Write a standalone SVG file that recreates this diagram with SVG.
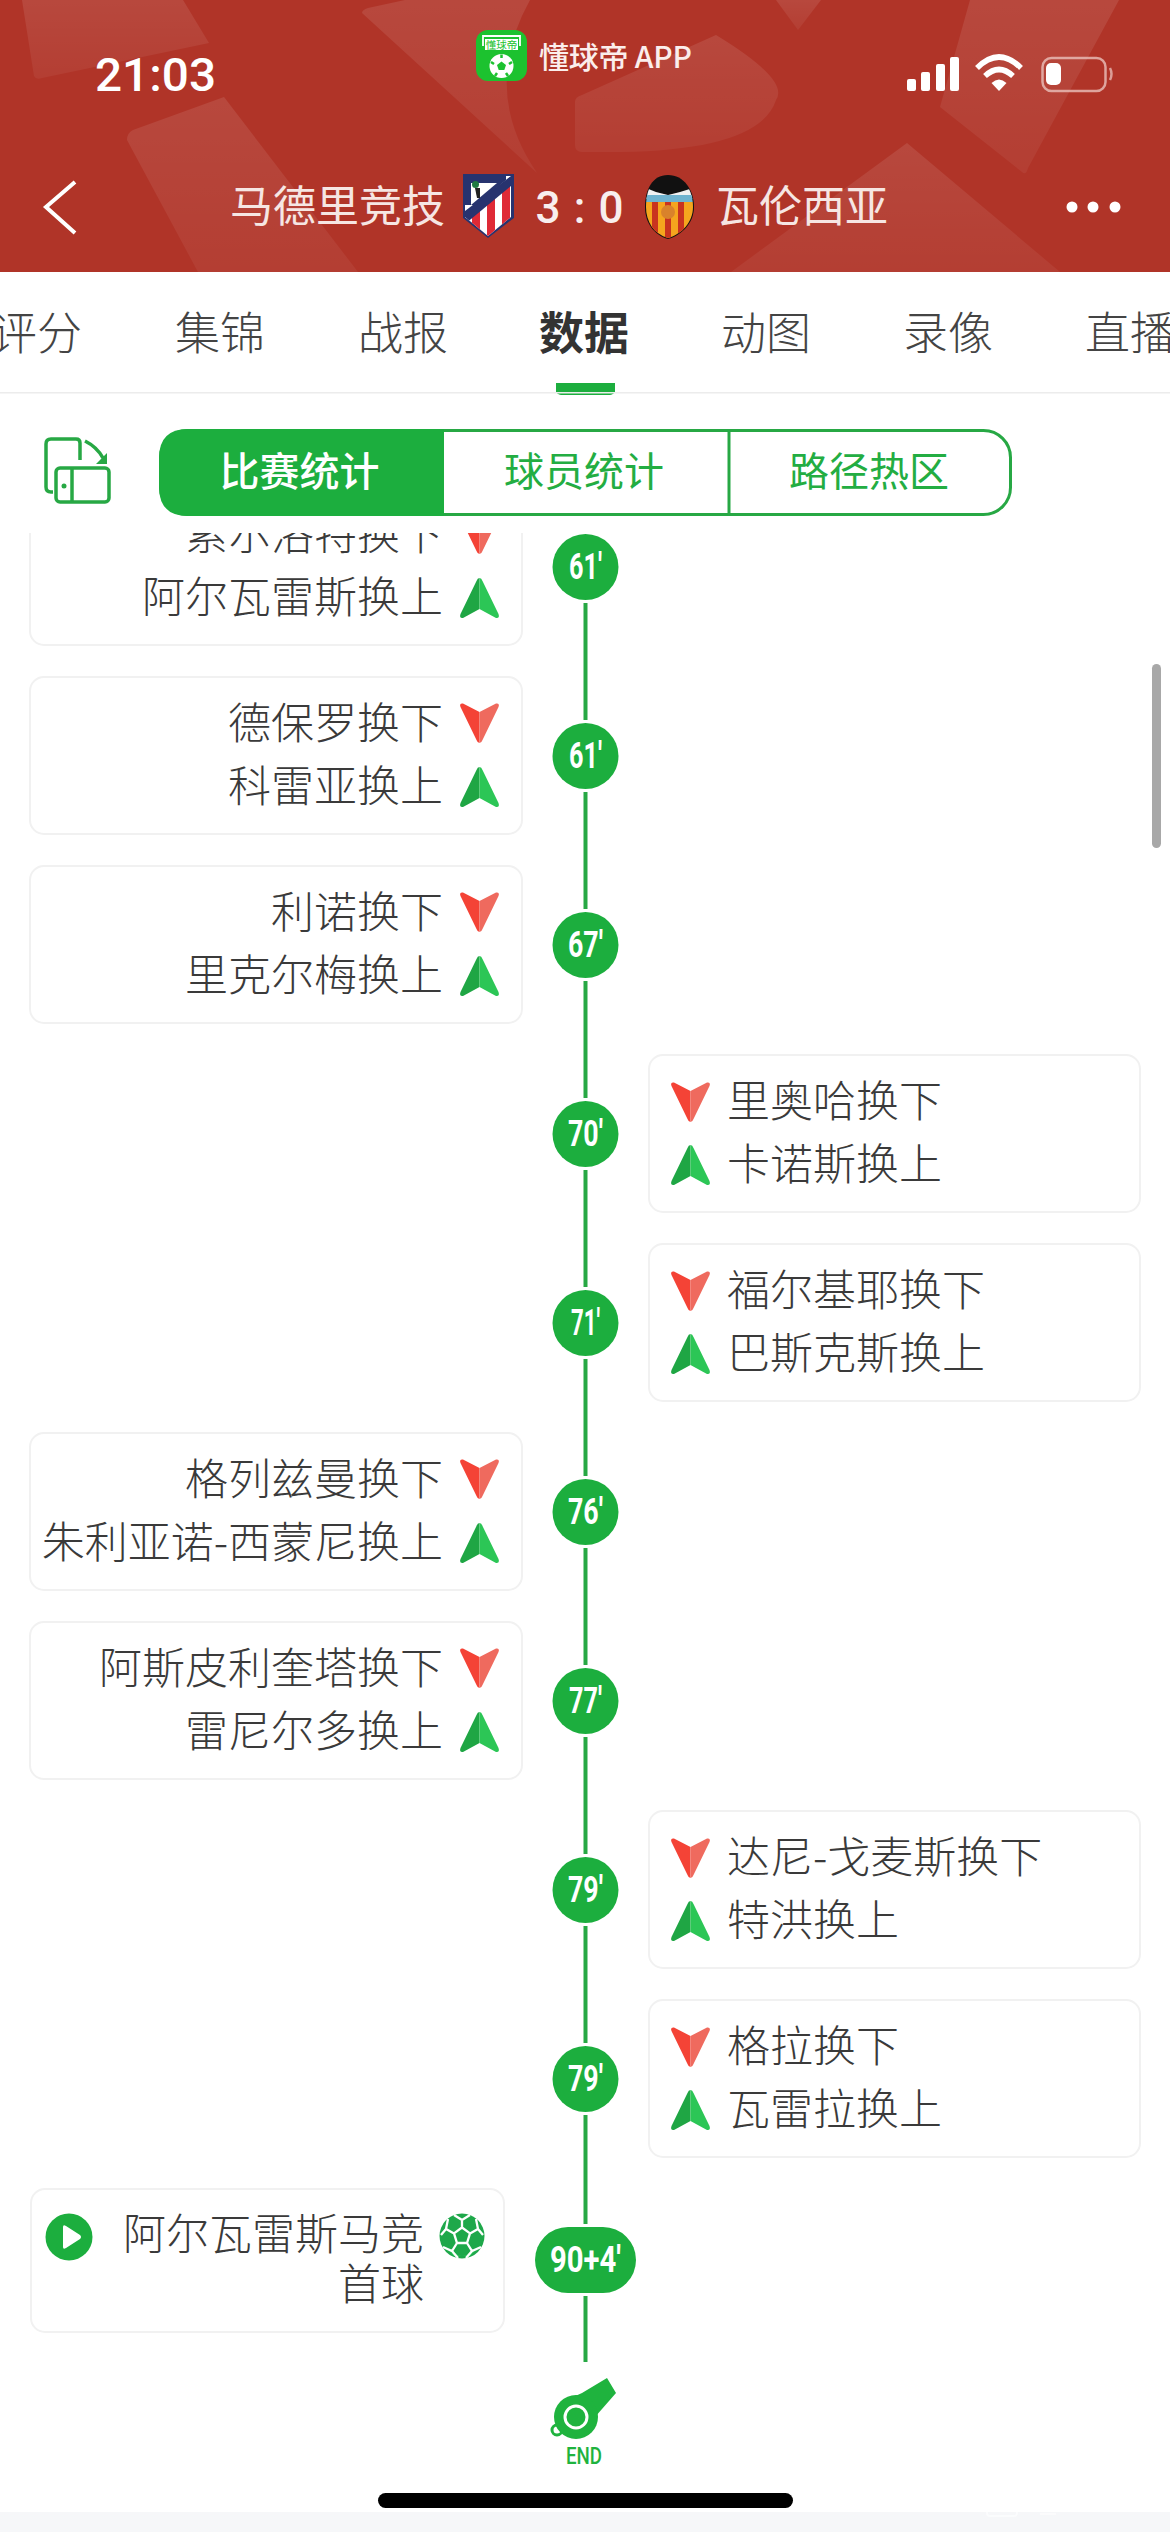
<svg xmlns="http://www.w3.org/2000/svg" xmlns:xlink="http://www.w3.org/1999/xlink" width="1170" height="2532" viewBox="0 0 1170 2532">
<style>
.cjk{font-family:"Noto Sans CJK SC","Noto Sans",sans-serif}
.row{font-size:43px;fill:#3a3a3a;font-weight:300}
.r{text-anchor:end}
.tab{font-size:45px;fill:#444;text-anchor:middle;font-weight:300}
.seg{font-size:40px;text-anchor:middle;fill:#23ad42}
.title{font-size:43px;fill:#f6e6e3}
.card{fill:#fff;stroke:#f1f1f1;stroke-width:2}
.bdg{fill:#1cae3e}
.bt{font-family:Roboto,"Liberation Sans",sans-serif;font-weight:700;font-size:36px;fill:#fff;text-anchor:middle}
.ln{stroke:#27a844;stroke-width:4;fill:none}
.gl{fill:url(#sheen)}
</style>
<defs>
<linearGradient id="sheen" x1="0" y1="0" x2="0" y2="1"><stop offset="0" stop-color="#fff" stop-opacity=".1"/><stop offset="1" stop-color="#fff" stop-opacity=".05"/></linearGradient>
<clipPath id="list"><rect x="0" y="533" width="1170" height="1979"/></clipPath>
<clipPath id="atmShield"><path d="M465 176H511V217L488 236L465 217Z"/></clipPath>
<clipPath id="vcfShield"><path d="M668 176C684 176 693 190 693 207C693 222 682 234 668 238C654 234 646 222 646 207C646 190 652 176 668 176Z"/></clipPath>
<g id="dn"><path d="M19.500 40Q17.500 40 16.500 37L.5 4Q-1 0 3 .5L19.500 9Z" fill="#f44336"/><path d="M19.500 40Q21.500 40 22.500 37L38.500 4Q40 0 36 .5L19.500 9Z" fill="#ef6a5e"/></g>
<g id="up"><path d="M19.500 0Q17.500 0 16.500 3L.5 36Q-1 40.500 3 40L19.500 31Z" fill="#1fa644"/><path d="M19.500 0Q21.500 0 22.500 3L38.500 36Q40 40.500 36 40L19.500 31Z" fill="#2cc656"/></g>
</defs>
<rect width="1170" height="2532" fill="#fff"/>
<g id="header">
<rect width="1170" height="272" fill="#b03428"/>
<path class="gl" d="M22 0L34 76Q36 80 42 78L209 43L183 0Z"/>
<path class="gl" d="M362 13Q362 10 368 8L405 0H530Q480 90 537 173Z"/>
<path class="gl" d="M127 140Q127 133 133 130L224 97L358 272H198Z"/>
<path class="gl" d="M575 102Q575 97 582 95L716 35Q790 80 776 100Q760 150 620 152H582Q575 152 575 145Z"/>
<path class="gl" d="M907 143L1060 272H731Z"/>
<path class="gl" d="M970 0L940 107L1022 172Q1026 176 1028 168L1119 0Z"/>
<path class="gl" d="M776 0L798 30L821 0Z"/>
</g>
<g id="status-bar">
<text x="95" y="91" font-family="Roboto,'Liberation Sans',sans-serif" font-weight="500" font-size="47" fill="#fff" textLength="121" lengthAdjust="spacingAndGlyphs">21:03</text>
<g id="app-badge">
<rect x="476" y="30" width="51" height="51" rx="12" fill="#1cc22f"/>
<path d="M483 46V36H520V46" fill="none" stroke="#fff" stroke-width="1.800"/>
<rect x="485" y="39" width="33" height="11" fill="#fff"/>
<text class="cjk" x="501.500" y="48.500" font-size="10.500" fill="#1cc22f" text-anchor="middle">懂球帝</text>
<circle cx="501.500" cy="66" r="12" fill="#fff"/>
<path d="M501.500 61.500L506 65L504.300 70H498.700L497 65Z" fill="#1cc22f"/>
<path d="M501.500 54.500V58M491 62L494 64M512 62L509 64M495 76L497 73M508 76L506 73" stroke="#1cc22f" stroke-width="2.500" fill="none"/>
</g>
<text class="cjk" x="539" y="68" font-size="30" font-weight="500" fill="#fbeeec" textLength="153" lengthAdjust="spacing">懂球帝 APP</text>
<g id="signal" fill="#fff">
<rect x="907" y="79" width="9" height="12" rx="2"/><rect x="921" y="72" width="9" height="19" rx="2"/><rect x="936" y="64" width="9" height="27" rx="2"/><rect x="950" y="57" width="9" height="34" rx="2"/>
</g>
<g id="wifi" fill="none" stroke="#fff" stroke-width="5.500">
<path d="M977 68Q999 46 1021 68"/><path d="M985 76Q999 63 1013 76"/>
<path d="M999 91L991.500 83Q999 76 1006.500 83Z" fill="#fff" stroke="none"/>
</g>
<g id="battery">
<rect x="1042.500" y="58" width="63" height="33" rx="9" fill="none" stroke="#eec9c4" stroke-width="2.500" opacity=".75"/>
<rect x="1046" y="63" width="15" height="22" rx="5" fill="#fff"/>
<path d="M1110 68Q1113 74 1110 80" fill="none" stroke="#eec9c4" stroke-width="2.500" opacity=".7"/>
</g>
</g>
<g id="match-title">
<path d="M75 182L46 207L75 233" fill="none" stroke="#fff" stroke-width="4"/>
<text class="cjk title" x="230" y="222">马德里竞技</text>
<g id="crest-atletico">
<path d="M463 174H514V218L488 238L463 218Z" fill="#27336f"/>
<g clip-path="url(#atmShield)">
<rect x="465" y="176" width="46" height="60" fill="#fff"/>
<path d="M472 190H480V236H472ZM487 190H495V240H487ZM502 170H510V236H502Z" fill="#df2a36"/>
<path d="M465 176H511L465 220Z" fill="#fff"/>
<path d="M465 211L511 176V186L465 224Z" fill="#27336f"/>
<path d="M465 176H506V180L476 205H465Z" fill="#27336f"/>
<path d="M471 183H497L471 205Z" fill="#fff"/>
<circle cx="475.500" cy="184.500" r="3.500" fill="#1f7a42"/><path d="M475 188H480V198H477Z" fill="#222"/>
</g>
</g>
<text x="579.500" y="222.500" font-family="Roboto,'Liberation Sans',sans-serif" font-weight="500" font-size="44" fill="#f8eeee" text-anchor="middle" textLength="88" lengthAdjust="spacing" xml:space="preserve">3 : 0</text>
<g id="crest-valencia">
<path d="M668 175C684 175 694 190 694 207C694 223 682 235 668 239C654 235 645 223 645 207C645 190 652 175 668 175Z" fill="#111"/>
<g clip-path="url(#vcfShield)">
<path d="M646 188L656 192L668 195L680 192L693 188V199H646Z" fill="#f1f1f1"/>
<rect x="646" y="195" width="48" height="7" fill="#6fb3cf"/>
<rect x="646" y="202" width="48" height="36" fill="#f5a51e"/>
<path d="M652 202H658V238H652ZM665 202H671V238H665ZM678 202H684V238H678Z" fill="#c9331f"/>
<circle cx="668" cy="212" r="7" fill="#d9822b"/>
</g>
</g>
<text class="cjk title" x="716" y="222">瓦伦西亚</text>
<g fill="#fff"><circle cx="1072" cy="207" r="5.500"/><circle cx="1093" cy="207" r="5.500"/><circle cx="1115" cy="207" r="5.500"/></g>
</g>
<g id="tabs" class="cjk">
<text class="tab" x="37" y="350">评分</text><text class="tab" x="220" y="350">集锦</text><text class="tab" x="403" y="350">战报</text>
<text class="tab" x="584" y="350" font-weight="700" style="fill:#333;font-weight:700">数据</text>
<text class="tab" x="766" y="350">动图</text><text class="tab" x="948" y="350">录像</text><text class="tab" x="1130" y="350">直播</text>
<rect x="556" y="383" width="59" height="12" rx="5" fill="#1cae3e"/>
<rect x="0" y="392" width="1170" height="1.500" fill="#ececec"/>
<rect x="556" y="383" width="59" height="9" fill="#1cae3e"/>
</g>
<g id="rotate-icon" fill="none" stroke="#27a844" stroke-width="3.500">
<path d="M53 492H51Q46 492 46 487V444Q46 439 51 439H76Q80 439 80 443V460"/>
<rect x="56" y="468" width="53" height="34" rx="4"/>
<path d="M72 468V502"/>
<circle cx="64" cy="486" r="2.500" fill="#27a844" stroke="none"/>
<path d="M85 441Q97 447 103 458"/>
<path d="M107 453V464H96Z" fill="#27a844" stroke="none"/>
</g>
<g id="segmented">
<rect x="160.500" y="430.500" width="850" height="84" rx="27" fill="#fff" stroke="#27a844" stroke-width="3"/>
<path d="M444 429H188Q159 429 159 458V487Q159 516 188 516H444Z" fill="#1cae3e"/>
<path d="M729 430V515" stroke="#27a844" stroke-width="3"/>
<g class="cjk">
<text class="seg" x="299.500" y="486" style="fill:#fff" font-weight="500">比赛统计</text>
<text class="seg" x="584" y="486">球员统计</text>
<text class="seg" x="869" y="486">路径热区</text>
</g>
</g>
<rect id="scrollbar" x="1152" y="664" width="9" height="184" rx="4.500" fill="#a8a8a8"/>
<g id="connectors" class="ln">
<path d="M585.500 603V720M585.500 792V909M585.500 981V1098M585.500 1170V1287M585.500 1359V1476M585.500 1548V1665M585.500 1737V1854M585.500 1926V2043M585.500 2115V2224M585.500 2296V2362"/>
</g>
<g clip-path="url(#list)">
<g id="card-61a" transform="translate(30 488)"><rect class="card" width="492" height="157" rx="14"/>
<g class="cjk row r"><text x="413" y="62">索尔洛特换下</text><text x="413" y="125">阿尔瓦雷斯换上</text></g>
<use href="#dn" x="430" y="26"/><use href="#up" x="430" y="90"/></g>
<g id="badge-61a"><circle class="bdg" cx="585.500" cy="567" r="33"/><text class="bt" x="585.500" y="579" textLength="33" lengthAdjust="spacingAndGlyphs">61′</text></g>
</g>
<g id="card-61b" transform="translate(30 677)"><rect class="card" width="492" height="157" rx="14"/>
<g class="cjk row r"><text x="413" y="62">德保罗换下</text><text x="413" y="125">科雷亚换上</text></g>
<use href="#dn" x="430" y="26"/><use href="#up" x="430" y="90"/></g>
<g id="badge-61b"><circle class="bdg" cx="585.500" cy="756" r="33"/><text class="bt" x="585.500" y="768" textLength="33" lengthAdjust="spacingAndGlyphs">61′</text></g>
<g id="card-67" transform="translate(30 866)"><rect class="card" width="492" height="157" rx="14"/>
<g class="cjk row r"><text x="413" y="62">利诺换下</text><text x="413" y="125">里克尔梅换上</text></g>
<use href="#dn" x="430" y="26"/><use href="#up" x="430" y="90"/></g>
<g id="badge-67"><circle class="bdg" cx="585.500" cy="945" r="33"/><text class="bt" x="585.500" y="957" textLength="35" lengthAdjust="spacingAndGlyphs">67′</text></g>
<g id="card-70" transform="translate(649 1055)"><rect class="card" width="491" height="157" rx="14"/>
<g class="cjk row"><text x="78" y="62">里奥哈换下</text><text x="78" y="125">卡诺斯换上</text></g>
<use href="#dn" x="22" y="27"/><use href="#up" x="22" y="90"/></g>
<g id="badge-70"><circle class="bdg" cx="585.500" cy="1134" r="33"/><text class="bt" x="585.500" y="1146" textLength="35" lengthAdjust="spacingAndGlyphs">70′</text></g>
<g id="card-71" transform="translate(649 1244)"><rect class="card" width="491" height="157" rx="14"/>
<g class="cjk row"><text x="78" y="62">福尔基耶换下</text><text x="78" y="125">巴斯克斯换上</text></g>
<use href="#dn" x="22" y="27"/><use href="#up" x="22" y="90"/></g>
<g id="badge-71"><circle class="bdg" cx="585.500" cy="1323" r="33"/><text class="bt" x="585.500" y="1335" textLength="29" lengthAdjust="spacingAndGlyphs">71′</text></g>
<g id="card-76" transform="translate(30 1433)"><rect class="card" width="492" height="157" rx="14"/>
<g class="cjk row r"><text x="413" y="62">格列兹曼换下</text><text x="413" y="125">朱利亚诺-西蒙尼换上</text></g>
<use href="#dn" x="430" y="26"/><use href="#up" x="430" y="90"/></g>
<g id="badge-76"><circle class="bdg" cx="585.500" cy="1512" r="33"/><text class="bt" x="585.500" y="1524" textLength="35" lengthAdjust="spacingAndGlyphs">76′</text></g>
<g id="card-77" transform="translate(30 1622)"><rect class="card" width="492" height="157" rx="14"/>
<g class="cjk row r"><text x="413" y="62">阿斯皮利奎塔换下</text><text x="413" y="125">雷尼尔多换上</text></g>
<use href="#dn" x="430" y="26"/><use href="#up" x="430" y="90"/></g>
<g id="badge-77"><circle class="bdg" cx="585.500" cy="1701" r="33"/><text class="bt" x="585.500" y="1713" textLength="33" lengthAdjust="spacingAndGlyphs">77′</text></g>
<g id="card-79a" transform="translate(649 1811)"><rect class="card" width="491" height="157" rx="14"/>
<g class="cjk row"><text x="78" y="62">达尼-戈麦斯换下</text><text x="78" y="125">特洪换上</text></g>
<use href="#dn" x="22" y="27"/><use href="#up" x="22" y="90"/></g>
<g id="badge-79a"><circle class="bdg" cx="585.500" cy="1890" r="33"/><text class="bt" x="585.500" y="1902" textLength="35" lengthAdjust="spacingAndGlyphs">79′</text></g>
<g id="card-79b" transform="translate(649 2000)"><rect class="card" width="491" height="157" rx="14"/>
<g class="cjk row"><text x="78" y="62">格拉换下</text><text x="78" y="125">瓦雷拉换上</text></g>
<use href="#dn" x="22" y="27"/><use href="#up" x="22" y="90"/></g>
<g id="badge-79b"><circle class="bdg" cx="585.500" cy="2079" r="33"/><text class="bt" x="585.500" y="2091" textLength="35" lengthAdjust="spacingAndGlyphs">79′</text></g>
<g id="card-goal" transform="translate(31 2189)"><rect class="card" width="473" height="143" rx="14"/>
<circle cx="38" cy="48" r="23.500" fill="#1cae3e"/><path d="M32 38Q32 35 35 37L49 46Q51 48 49 50L35 59Q32 61 32 58Z" fill="#fff"/>
<g class="cjk row r"><text x="393" y="61">阿尔瓦雷斯马竞</text><text x="393" y="111">首球</text></g>
<g id="ball" transform="translate(431 47)">
<circle r="22.500" fill="#1ea84a"/>
<path d="M-17 10Q0 30 17 10L8 20H-8Z" fill="#2fd25f"/>
<path d="M0 -8.500L8 -2.600L5 7H-5L-8 -2.600ZM0 -8.500V-16L-8 -21M0 -16L8 -21M8 -2.600L16 -7L21 -1M16 -7L14 -17M-8 -2.600L-16 -7L-21 -1M-16 -7L-14 -17M5 7L10 15L19 11M10 15L4 22M-5 7L-10 15L-19 11M-10 15L-4 22" fill="none" stroke="#fff" stroke-width="2.300"/>
</g></g>
<g id="badge-90"><rect class="bdg" x="535" y="2227" width="101" height="66" rx="33"/><text class="bt" x="585.500" y="2272" textLength="71" lengthAdjust="spacingAndGlyphs">90+4′</text></g>
<g id="end-whistle" fill="#1fb33e">
<path d="M582 2393L607 2378L616 2393L595 2417L566 2420L562 2402Z"/>
<circle cx="576" cy="2417" r="22"/>
<circle cx="576" cy="2417" r="11" stroke="#fff" stroke-width="3"/>
<circle cx="557" cy="2430" r="5" fill="none" stroke="#1fb33e" stroke-width="3"/>
<text x="584" y="2464" font-family="Roboto,'Liberation Sans',sans-serif" font-weight="500" font-size="23" text-anchor="middle" textLength="36" lengthAdjust="spacingAndGlyphs">END</text>
</g>
<rect id="bottom-band" x="0" y="2512" width="1170" height="20" fill="#f6f7f9"/>
<rect id="home-bar" x="378" y="2493" width="415" height="15" rx="7.500" fill="#000"/>
<g id="watermark" fill="none" stroke="#fff" stroke-width="2" opacity=".6"><rect x="987" y="2482" width="30" height="34" rx="3"/><path d="M1040 2514H1056"/></g>
</svg>
